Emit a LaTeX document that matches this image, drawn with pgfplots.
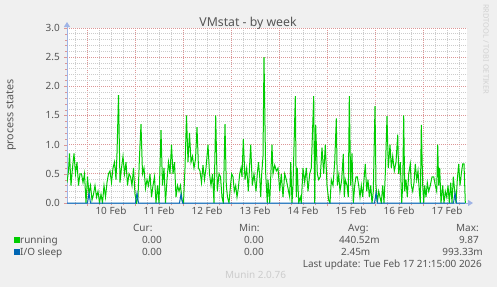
\documentclass[border=0pt]{standalone}
\usepackage{pgfplots}
\pgfplotsset{compat=1.18}
\usepackage{fontspec}
\setmainfont{Noto Sans}
\usetikzlibrary{arrows.meta}
\definecolor{bgcol}{HTML}{F0F0F0}
\definecolor{textcol}{HTML}{555555}
\definecolor{runcol}{HTML}{00CC00}
\definecolor{iocol}{HTML}{0066B3}
\definecolor{majgrid}{HTML}{DC9696}
\definecolor{mingrid}{HTML}{CCCCCC}
\definecolor{axiscol}{HTML}{A0B4E6}
\begin{document}
\begin{tikzpicture}[x=1bp,y=1bp]
\fill[bgcol] (0,0) rectangle (497,287);
\begin{axis}[
  at={(67bp,84bp)}, anchor=south west,
  scale only axis, width=400bp, height=175bp,
  xmin=0, xmax=400, ymin=0, ymax=3,
  axis background/.style={fill=white},
  axis x line=bottom, axis y line=left,
  axis line style={draw=axiscol, line width=1bp},
  x axis line style={-{Triangle[length=5bp,width=6bp]}, shorten >=-6bp},
  y axis line style={-{Triangle[length=5bp,width=6bp]}, shorten >=-6bp},
  xtick={20,68,116,164,212,260,308,356},
  xticklabels={},
  minor xtick={8,32,44,56,80,92,104,128,140,152,176,188,200,224,236,248,272,284,296,320,332,344,368,380,392},
  extra x ticks={44,92,140,188,236,284,332,380},
  extra x tick labels={10 Feb,11 Feb,12 Feb,13 Feb,14 Feb,15 Feb,16 Feb,17 Feb},
  extra x tick style={grid=none, major tick length=0pt},
  ytick={0,0.5,1,1.5,2,2.5,3},
  yticklabels={0.0,0.5,1.0,1.5,2.0,2.5,3.0},
  minor y tick num=4,
  grid=both,
  major grid style={draw=majgrid, dash pattern=on 1bp off 1bp, line width=0.8bp},
  minor grid style={draw=mingrid, dash pattern=on 1bp off 1bp, line width=0.8bp},
  tick align=outside,
  major tick length=3bp, minor tick length=2bp,
  xtick style={draw=majgrid}, ytick style={draw=majgrid},
  minor tick style={draw=mingrid},
  tick label style={font=\fontsize{10}{12}\selectfont, text=textcol, inner sep=0pt},
  xticklabel style={yshift=-4bp},
  yticklabel style={xshift=-4bp},
  clip=true,
]
\addplot[runcol, line width=1bp] coordinates {
(0,0.35) (1.5,0.55) (2.5,0.85) (4,0.3) (5.5,0.6) (7,0.85) (8.5,0.5) (10,0.7) (11.5,0.3) (13,0.5)
(14.5,0.5) (16,0.35) (17.5,0.5) (19,0) (20.5,0.45) (22,0.15) (23.5,0.3) (25,0.05) (26.5,0.15) (28,0.3)
(29.5,0.1) (31,0.2) (32.5,0) (34,0.15) (35.5,0) (37,0.3) (38.5,0.1) (40,0.35) (41.5,0.5) (43,0.55)
(44.5,0.35) (46,0.6) (47.5,0.7) (49,0.4) (50,0.85) (51.5,1.85) (53,0.35) (54.5,0.6) (56,0.8) (57.5,0.5)
(59,0.7) (60.5,0.3) (62,0.5) (63.5,0.45) (65,0.3) (66.5,0.6) (68,0.15) (69.5,0) (71,0.1) (72.5,0.8)
(74,1.35) (75.5,0.5) (77,0.6) (78.5,0.25) (80,0.4) (81.5,0.3) (83,0.5) (84.5,0.1) (86,0.3) (87.5,0.45)
(89,0) (90.5,0.3) (92,0) (94,1.25) (95.5,0.3) (97,0.6) (98.5,0) (100,0.4) (101.5,0.7) (103,0.5)
(104.5,1.0) (106,0.5) (107.5,0.7) (109,0.1) (110.5,0.3) (112,0.2) (113.5,0.3) (115,0.05) (116.5,0) (118,0.6)
(119.5,1.5) (121,0.7) (122.5,1.2) (124,0.7) (125.5,0.8) (127,0.6) (128.5,0.75) (130,1.3) (131.5,0.6) (133,0.55)
(134.5,0.35) (136,0.65) (137.5,0.4) (139,0.6) (141,1.0) (142.5,0.5) (144,0.3) (145.5,0.5) (147,0) (148.7,1.5)
(150.3,0.2) (152,0.5) (153.5,0.45) (155,0.1) (156.3,0) (158,1.35) (159.3,0.3) (160.5,0.1) (162,0) (163.5,0.3)
(164.7,0.5) (166,0.45) (167.3,0.2) (168.7,0.3) (170,0.1) (171.3,0.25) (172.7,0.5) (174,0.6) (175,0.45) (176.3,1.1)
(178,0.4) (179.7,0.6) (181.3,0.2) (183.7,1.0) (185.3,0.3) (187,0.5) (189,0.2) (190.3,0.5) (191.5,0.7) (192.7,0.45)
(193.7,0.1) (194.7,0.5) (196,0.8) (197,2.5) (198.7,0.5) (200.3,0) (201,0.4) (202.7,0) (205,1.0) (206,0.5)
(207.7,0.65) (209.3,0.55) (211,0.6) (212.7,0.2) (214.3,0.5) (216,0.1) (217.7,0.5) (219.3,0.4) (221,0.25) (222.7,0.1)
(223.7,0.7) (225,0) (226,0.3) (228.3,1.83) (229.3,0.1) (230.3,0.6) (231.7,0) (233.3,0.1) (234.3,0) (236,0.6)
(237.7,0.35) (239.3,0.6) (241,0.2) (242.7,0.5) (244.3,0.6) (246.7,1.83) (247.7,0) (248.7,1.34) (250.3,0.5) (251.7,0.4)
(253.3,0.45) (255,0.95) (256.7,0.5) (258.3,1.0) (260,0.3) (261.7,0.05) (263,0) (264.3,0.4) (266,0.3) (267.7,0.7)
(269.3,1.45) (270.3,0.3) (271.7,0.48) (273,0.2) (274.7,0.4) (276.3,0.84) (277.3,0.1) (278.3,0.4) (280,0.3) (281.3,0.1)
(282.3,1.83) (283.7,0.3) (285,0.85) (286.3,0) (287.7,0.3) (289,0.45) (290.3,0.45) (291.7,0.3) (293,0.1) (294.3,0.3)
(295.7,0.1) (297,0.4) (298.3,0.67) (299.7,0.2) (301,0.4) (302.3,0.1) (303.7,0.3) (305,0) (306.3,0.2) (308,1.66)
(309,0.3) (310.3,0) (311.7,0.2) (313,0.1) (314.3,0) (315.7,0.3) (317,0) (318.3,0.5) (320,1.49) (321.3,0.6)
(323,1.0) (324.3,0.6) (325.7,0.8) (327.3,0.55) (329,0.7) (330.7,1.17) (331.7,0.5) (333.3,0.7) (334.7,0) (335.7,0.3)
(336.7,1.5) (337.7,0.2) (339,0.4) (340.3,0.1) (341.7,0.5) (343.3,0.67) (344.3,0.3) (345.7,0.2) (347,0.35) (348.3,0.67)
(349.7,0.4) (351,0.55) (352.3,0.2) (353.3,0) (354.3,1.34) (355.7,0.3) (356.7,0) (357.7,0.3) (359,0.1) (360.3,0.35)
(361.7,0.2) (363.3,0.3) (365,0.45) (366.7,0.45) (368.3,0.3) (369.7,0.2) (370.7,1.0) (371.7,0.3) (372.7,0.6) (374,0)
(375.7,0.3) (377,0) (378.3,0.2) (379.7,0.1) (381,0.3) (382.3,0) (383.7,0.35) (385,0) (386.3,0.45) (387.7,0.2)
(389,0) (390.3,0.4) (391.7,0.67) (393,0.3) (394.3,0.5) (395.7,0.67) (397,0.67) (398.3,0)
};
\addplot[iocol, line width=1bp] coordinates {
(0,0) (20.5,0) (22,0.17) (23.5,0) (68.5,0) (70,0.17) (71.5,0) (112.5,0) (114,0.15) (115.5,0)
(307.5,0) (309,0.17) (310.5,0) (386.5,0) (388,0.17) (389.5,0) (398,0)
};
\end{axis}
% title and labels
\node[anchor=base, inner sep=0pt, text=textcol, font=\fontsize{12.3}{14}\selectfont] at (248,261) {VMstat - by week};
\node[rotate=90, inner sep=0pt, text=textcol, font=\fontsize{10.8}{13}\selectfont] at (11,172) {process states};
\node[rotate=-90, anchor=west, inner sep=0pt, text=black!18, font=\fontsize{7.5}{9}\selectfont] at (486,283) {RRDTOOL / TOBI OETIKER};
% legend
\begin{scope}[every node/.style={inner sep=0pt, text=textcol, font=\fontsize{10}{12}\selectfont}]
\node[anchor=base west] at (133,56) {Cur:};
\node[anchor=base west] at (239,56) {Min:};
\node[anchor=base west] at (348,56) {Avg:};
\node[anchor=base west] at (456,56) {Max:};
\fill[runcol] (14,44.5) rectangle (19.5,50);
\node[anchor=base west] at (20,44) {running};
\node[anchor=base east] at (162,44) {0.00};
\node[anchor=base east] at (264,44) {0.00};
\node[anchor=base west] at (339,44) {440.52m};
\node[anchor=base east] at (479,44) {9.87};
\fill[iocol] (14,32.5) rectangle (19.5,38);
\node[anchor=base west] at (20,32) {I/O sleep};
\node[anchor=base east] at (162,32) {0.00};
\node[anchor=base east] at (264,32) {0.00};
\node[anchor=base west] at (341,32) {2.45m};
\node[anchor=base east] at (483,32) {993.33m};
\node[anchor=base east] at (482,20) {Last update: Tue Feb 17 21:15:00 2026};
\node[anchor=base west, text=black!20] at (225,9) {Munin 2.0.76};
\end{scope}
\end{tikzpicture}
\end{document}
